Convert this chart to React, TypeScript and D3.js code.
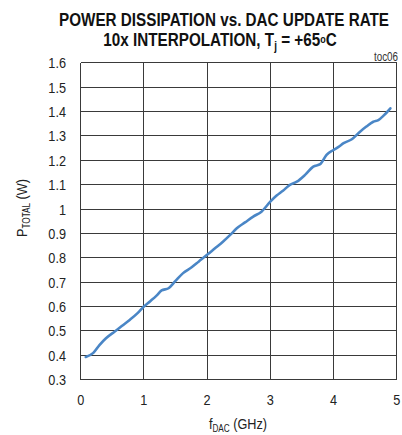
import React, { useEffect, useRef } from "react"
import * as d3 from "d3"

// chart values
const freqGHz = [0.08, 0.2, 0.3, 0.4, 0.54, 0.65, 0.78, 0.9, 1.0, 1.1, 1.2, 1.28, 1.39, 1.5, 1.62, 1.75, 1.87, 2.0, 2.12, 2.25, 2.37, 2.47, 2.6, 2.73, 2.86, 3.0, 3.1, 3.2, 3.31, 3.42, 3.55, 3.68, 3.79, 3.89, 4.0, 4.08, 4.16, 4.29, 4.42, 4.52, 4.63, 4.71, 4.8, 4.9]
const powerW = [0.393, 0.41, 0.443, 0.47, 0.498, 0.52, 0.546, 0.573, 0.6, 0.622, 0.645, 0.666, 0.675, 0.705, 0.737, 0.76, 0.785, 0.812, 0.838, 0.866, 0.895, 0.921, 0.945, 0.969, 0.989, 1.03, 1.055, 1.075, 1.099, 1.112, 1.14, 1.174, 1.184, 1.222, 1.242, 1.255, 1.27, 1.286, 1.317, 1.338, 1.358, 1.365, 1.385, 1.413]
const xTicks = [0, 1, 2, 3, 4, 5]
const yTicks = [0.3, 0.4, 0.5, 0.6, 0.7, 0.8, 0.9, 1, 1.1, 1.2, 1.3, 1.4, 1.5, 1.6]

const W = 402
const H = 435
const font = "'Liberation Sans', Arial, sans-serif"
const narrow = 0.82 // the original uses a condensed face

export default function App() {
    const ref = useRef<SVGSVGElement>(null)

    useEffect(() => {
        const svg = d3.select(ref.current)
        svg.selectAll("g.plot").remove()
        const g = svg.insert("g", ":first-child").attr("class", "plot")

        const left = 80.7, right = 396.7, top = 62.7, bottom = 379.7
        const x = d3.scaleLinear().domain([0, 5]).range([left, right])
        const y = d3.scaleLinear().domain([0.3, 1.6]).range([bottom, top])

        // grid
        const grid = g.append("g").attr("stroke", "#3a3a3a").attr("stroke-width", 1).attr("shape-rendering", "crispEdges")
        grid.selectAll("line.h").data(yTicks).enter().append("line")
            .attr("x1", left).attr("x2", right)
            .attr("y1", d => y(d)).attr("y2", d => y(d))
        grid.selectAll("line.v").data(xTicks).enter().append("line")
            .attr("y1", top).attr("y2", bottom)
            .attr("x1", d => x(d)).attr("x2", d => x(d))

        // tick labels
        g.append("g").selectAll("text").data(yTicks).enter().append("text")
            .attr("transform", d => `translate(66,${y(d) + 5.5}) scale(${narrow},1)`)
            .attr("text-anchor", "end")
            .attr("font-family", font).attr("font-size", 15.5).attr("fill", "#222")
            .text(d => String(d))
        g.append("g").selectAll("text").data(xTicks).enter().append("text")
            .attr("transform", d => `translate(${x(d)},405) scale(${narrow},1)`)
            .attr("text-anchor", "middle")
            .attr("font-family", font).attr("font-size", 15.5).attr("fill", "#222")
            .text(d => String(d))

        // data line
        const line = d3.line<number>()
            .x((d, i) => x(freqGHz[i]))
            .y(d => y(d))
            .curve(d3.curveMonotoneX)
        g.append("path")
            .datum(powerW)
            .attr("d", line)
            .attr("fill", "none")
            .attr("stroke", "#4a86c6")
            .attr("stroke-width", 2.6)
            .attr("stroke-linejoin", "round")
            .attr("stroke-linecap", "round")
    }, [])

    return (
        <svg ref={ref} width={W} height={H} style={{ position: "absolute", left: 0, top: 0, background: "#fff" }}>
            <g fontFamily={font} fill="#111">
                <text transform={`translate(224,26) scale(${narrow},1)`} textAnchor="middle" fontSize={18.6} fontWeight="bold">
                    POWER DISSIPATION vs. DAC UPDATE RATE
                </text>
                <text transform={`translate(220,46) scale(${narrow},1)`} textAnchor="middle" fontSize={18.6} fontWeight="bold">
                    10x INTERPOLATION, T
                    <tspan fontSize={12} dy={4}>j</tspan>
                    <tspan dy={-4}> = +65</tspan>
                    <tspan fontSize={11} dy={-3}>o</tspan>
                    <tspan dy={3}>C</tspan>
                </text>
                <text transform={`translate(398,61) scale(${narrow},1)`} textAnchor="end" fontSize={12} fill="#333">toc06</text>
                <text transform={`translate(27,208) rotate(-90) scale(${narrow},1)`} textAnchor="middle" fontSize={15.5} fill="#222">
                    P<tspan fontSize={10} dy={3}>TOTAL</tspan><tspan dy={-3}> (W)</tspan>
                </text>
                <text transform={`translate(238,429) scale(${narrow},1)`} textAnchor="middle" fontSize={15.5} fill="#222">
                    f<tspan fontSize={10} dy={3}>DAC</tspan><tspan dy={-3}> (GHz)</tspan>
                </text>
            </g>
        </svg>
    )
}
